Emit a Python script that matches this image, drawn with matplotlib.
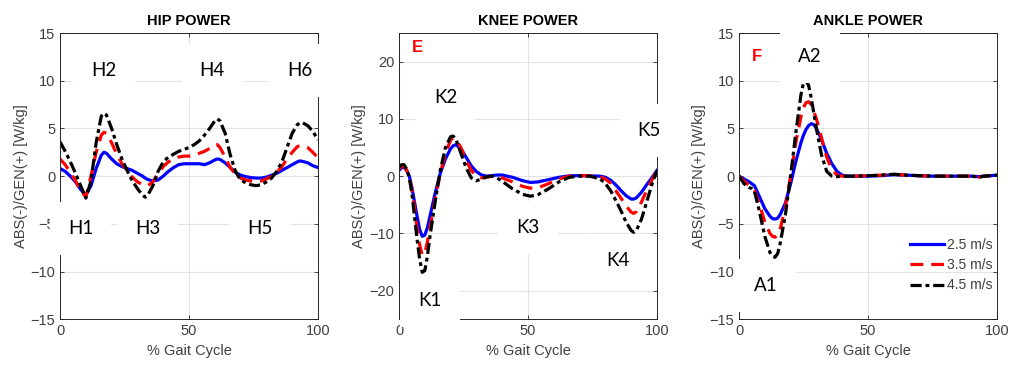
import numpy as np
import matplotlib
matplotlib.use("Agg")
import matplotlib.pyplot as plt

# ---- data (% gait cycle vs power, W/kg) ----
speeds = ["2.5 m/s", "3.5 m/s", "4.5 m/s"]

hip_x = [0, 2, 4, 6, 8, 10, 12, 14, 16, 17, 18, 20, 22, 24, 26, 28, 30, 32, 33, 34, 36, 38, 40, 42, 44,
         46, 48, 50, 52, 54, 56, 58, 60, 61, 62, 64, 66, 68, 70, 72, 74, 76, 78, 80, 82, 84, 86, 88,
         90, 92, 93, 94, 96, 98, 100]
hip_25 = [0.8, 0.5, 0.0, -0.6, -1.4, -2.0, -1.0, 0.8, 2.2, 2.5, 2.4, 1.8, 1.3, 1.0, 0.8, 0.6, 0.3, 0.0,
          -0.2, -0.35, -0.5, -0.4, 0.0, 0.5, 0.9, 1.2, 1.3, 1.3, 1.3, 1.3, 1.2, 1.4, 1.7, 1.8, 1.75,
          1.4, 0.9, 0.4, 0.1, -0.05, -0.15, -0.2, -0.2, -0.1, 0.1, 0.3, 0.6, 0.9, 1.2, 1.5, 1.6,
          1.55, 1.4, 1.1, 0.9]
hip_35 = [1.8, 1.2, 0.4, -0.5, -1.5, -2.2, 0.0, 2.5, 4.3, 4.6, 4.5, 3.5, 2.3, 1.3, 0.6, -0.1, -0.6,
          -0.9, -1.0, -1.0, -0.6, 0.3, 1.0, 1.5, 1.8, 2.0, 2.1, 2.1, 2.2, 2.4, 2.6, 2.9, 3.3, 3.3,
          3.0, 2.0, 0.9, 0.2, -0.2, -0.4, -0.5, -0.55, -0.5, -0.3, 0.0, 0.4, 1.0, 1.8, 2.5, 3.1,
          3.2, 3.2, 3.0, 2.5, 1.9]
hip_45 = [3.6, 2.6, 1.5, 0.3, -1.0, -2.3, -0.5, 3.5, 6.3, 6.6, 6.4, 5.0, 3.3, 1.8, 0.6, -0.5, -1.3,
          -2.0, -2.2, -2.0, -1.0, 0.5, 1.5, 2.0, 2.3, 2.6, 2.8, 3.0, 3.3, 3.7, 4.3, 5.0, 5.8, 6.0,
          5.8, 4.5, 2.2, 0.5, -0.4, -0.7, -0.9, -1.0, -0.9, -0.6, -0.2, 0.5, 1.5, 3.0, 4.5, 5.4,
          5.6, 5.6, 5.3, 4.7, 3.8]

knee_x = [0, 1, 2, 3, 4, 5, 6, 7, 8, 9, 10, 11, 12, 14, 16, 18, 20, 21, 22, 24, 26, 28, 30, 32, 34,
          36, 38, 40, 44, 48, 51, 54, 58, 62, 66, 70, 74, 78, 80, 82, 84, 86, 88, 90, 91, 92, 94,
          96, 98, 100]
knee_25 = [1.0, 1.5, 1.5, 1.0, 0.0, -2.0, -4.5, -7.0, -9.3, -10.5, -10.3, -9.0, -7.0, -3.0, 0.5,
           3.0, 4.8, 5.3, 5.5, 4.8, 3.3, 1.8, 0.8, 0.2, 0.0, 0.1, 0.2, 0.2, -0.2, -0.8, -1.1, -1.0,
           -0.6, -0.2, 0.05, 0.1, 0.05, 0.0, -0.2, -0.7, -1.5, -2.5, -3.4, -4.0, -4.0, -3.8, -2.8,
           -1.5, -0.3, 1.0]
knee_35 = [1.3, 1.7, 1.7, 1.0, -0.2, -2.5, -5.5, -9.0, -12.0, -13.8, -13.5, -11.5, -9.0, -4.0, 0.5,
           4.0, 6.3, 6.7, 6.5, 5.0, 2.8, 1.0, 0.0, -0.3, -0.2, 0.0, -0.1, -0.3, -1.0, -1.8, -2.1,
           -2.0, -1.3, -0.5, 0.0, 0.1, 0.05, -0.1, -0.5, -1.2, -2.5, -3.8, -5.2, -6.3, -6.5, -6.2,
           -4.5, -2.5, -0.7, 1.0]
knee_45 = [1.5, 2.0, 2.0, 1.2, -0.3, -3.0, -7.0, -11.0, -14.5, -16.8, -16.5, -14.0, -10.5, -4.5, 1.0,
           5.0, 6.9, 7.0, 6.5, 4.0, 1.5, -0.3, -0.8, -0.5, -0.1, 0.0, -0.3, -0.9, -2.2, -3.2, -3.5,
           -3.2, -2.2, -1.0, -0.2, 0.0, 0.0, -0.5, -1.3, -2.5, -4.2, -6.0, -8.0, -9.5, -9.8, -9.5,
           -7.5, -4.5, -1.5, 1.0]

ankle_x = [0, 2, 4, 5, 6, 8, 10, 12, 13, 14, 15, 16, 18, 20, 22, 24, 25, 26, 27, 28, 29, 30, 32, 34,
           36, 38, 40, 42, 45, 50, 55, 60, 65, 70, 75, 80, 85, 90, 93, 95, 100]
ankle_25 = [0.0, -0.3, -0.6, -0.8, -1.0, -2.2, -3.4, -4.2, -4.45, -4.5, -4.4, -4.0, -2.8, -0.8, 1.5,
            3.5, 4.3, 4.9, 5.3, 5.5, 5.4, 5.0, 3.8, 2.4, 1.3, 0.5, 0.1, 0.0, 0.0, 0.0, 0.05, 0.15,
            0.1, 0.05, 0.0, 0.0, 0.0, 0.0, -0.05, 0.0, 0.1]
ankle_35 = [0.0, -0.5, -1.0, -1.2, -1.5, -3.0, -4.8, -6.0, -6.3, -6.4, -6.2, -5.5, -3.2, 0.0, 3.5,
            6.2, 7.2, 7.7, 7.8, 7.5, 6.8, 6.0, 4.0, 2.0, 0.7, 0.1, 0.0, 0.0, 0.0, 0.05, 0.1, 0.2,
            0.1, 0.05, 0.0, 0.0, 0.0, 0.0, -0.1, 0.0, 0.1]
ankle_45 = [0.0, -0.8, -1.2, -1.3, -1.6, -3.8, -6.3, -8.0, -8.4, -8.5, -8.1, -7.0, -4.0, 0.0, 4.5,
            8.5, 9.8, 10.0, 9.5, 8.2, 6.6, 5.0, 2.2, 0.5, 0.0, -0.05, 0.0, 0.0, 0.0, 0.05, 0.1, 0.2,
            0.1, 0.05, 0.0, 0.0, 0.0, 0.0, -0.1, 0.0, 0.1]

hip_labels = [("H2", 17, 11.1), ("H4", 59, 11.1), ("H6", 93, 11.1),
              ("H1", 8, -5.5), ("H3", 34, -5.5), ("H5", 77.5, -5.5)]
knee_labels = [("K2", 18, 13.8), ("K5", 97, 8), ("K3", 50, -9),
               ("K4", 85, -14.7), ("K1", 12, -21.7)]
ankle_labels = [("A2", 27.5, 12.5), ("A1", 10.5, -11.5)]

colors = ["#0000ff", "#ff0000", "#000000"]
styles = ["-", (0, (4, 2.5)), (0, (3.5, 1.2, 1.2, 1.2))]
gray = "#404040"

plt.rcParams['font.family'] = 'Liberation Sans'
fig = plt.figure(figsize=(10.14, 3.67), dpi=100)

panels = [
    ("HIP POWER", hip_x, [hip_25, hip_35, hip_45], (-15, 15), [-15, -10, -5, 0, 5, 10, 15], hip_labels, None),
    ("KNEE POWER", knee_x, [knee_25, knee_35, knee_45], (-25, 25), [-20, -10, 0, 10, 20], knee_labels, ("E", 7.3, 22.5)),
    ("ANKLE POWER", ankle_x, [ankle_25, ankle_35, ankle_45], (-15, 15), [-15, -10, -5, 0, 5, 10, 15], ankle_labels, ("F", 7, 12.5)),
]
lefts = [0.0592, 0.3935, 0.7288]

for left, (title, x, ys, ylim, yticks, labels, letter) in zip(lefts, panels):
    ax = fig.add_axes([left, 0.13, 0.2544, 0.78])
    for y, c, ls, name in zip(ys, colors, styles, speeds):
        ax.plot(x, y, color=c, linestyle=ls, linewidth=2.3, label=name)
    ax.set_xlim(0, 100)
    ax.set_ylim(*ylim)
    ax.set_xticks([0, 50, 100])
    ax.set_yticks(yticks)
    ax.grid(True, color="#e3e3e3", linewidth=0.8)
    ax.set_axisbelow(True)
    ax.tick_params(direction="in", top=True, right=True, labelsize=10.5, colors=gray,
                   length=3, width=0.7)
    for s in ax.spines.values():
        s.set_color("#262626")
        s.set_linewidth(0.7)
    ax.set_title(title, fontsize=10.5, fontweight="bold", pad=6)
    ax.set_xlabel("% Gait Cycle", fontsize=10.5, color=gray, labelpad=4)
    ax.set_ylabel("ABS(-)/GEN(+) [W/kg]", fontsize=10.5, color=gray, labelpad=2)
    for txt, lx, ly in labels:
        ax.text(lx, ly, txt, fontsize=13.5, family="Lato", ha="center", va="center",
                zorder=10, clip_on=False,
                bbox=dict(facecolor="white", edgecolor="none", pad=13))
    if letter is not None:
        ax.text(letter[1], letter[2], letter[0], fontsize=12, fontweight="bold",
                color="#ff0000", ha="center", va="center", zorder=10)
    if title == "ANKLE POWER":
        ax.legend(loc="lower right", bbox_to_anchor=(1.03, 0.05), frameon=False,
                  fontsize=10, handlelength=2.4, handletextpad=0.2, labelspacing=0.45,
                  labelcolor=gray)

fig.savefig("out.png", dpi=100)
